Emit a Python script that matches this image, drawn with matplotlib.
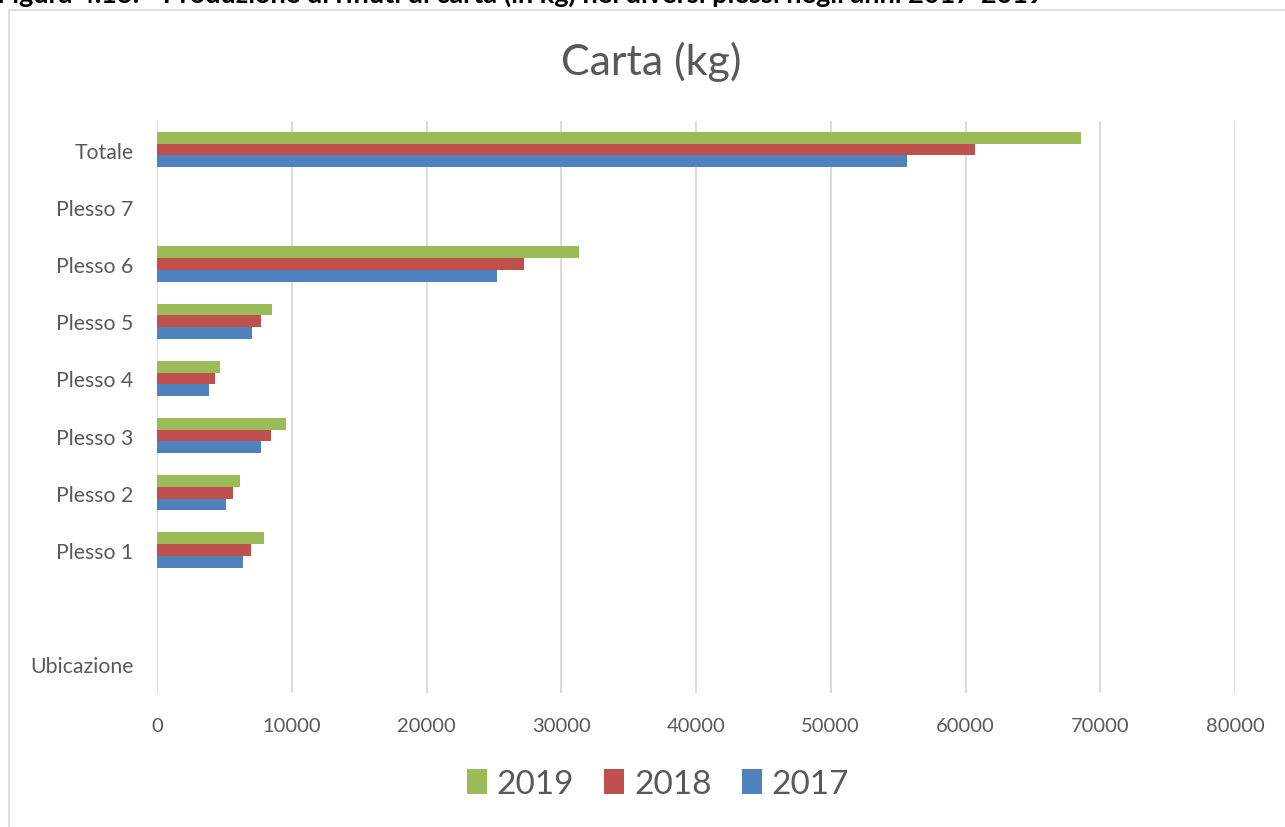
import numpy as np
import matplotlib.pyplot as plt
from matplotlib.patches import Rectangle

plt.rcParams['font.family'] = ['Lato', 'DejaVu Sans']

categories = ['Ubicazione', '', 'Plesso 1', 'Plesso 2', 'Plesso 3', 'Plesso 4',
              'Plesso 5', 'Plesso 6', 'Plesso 7', 'Totale']
v2017 = [0, 0, 6380, 5120, 7700, 3840, 7050, 25230, 0, 55660]
v2018 = [0, 0, 6980, 5660, 8470, 4330, 7700, 27230, 0, 60740]
v2019 = [0, 0, 7920, 6160, 9580, 4700, 8530, 31320, 0, 68570]
years = ['2019', '2018', '2017']
colors = ['#9BBB59', '#C0504D', '#4F81BD']
xticks = [0, 10000, 20000, 30000, 40000, 50000, 60000, 70000, 80000]

gray = '#595959'
W, H = 1285, 828
fig = plt.figure(figsize=(W / 100, H / 100), dpi=100)

# chart frame (clipped on right/bottom like the source)
fig.patches.append(Rectangle((9 / W, -0.01), 1.1, 1 - 11 / H + 0.01,
                             transform=fig.transFigure, fill=False,
                             edgecolor='#D9D9D9', lw=1.2))
# caption of the page, cut at the top edge in the source image
fig.text(-0.002, 1 - 3 / H,
         'Figura 4.13: - Produzione di rifiuti di carta (in kg) nei diversi plessi negli anni 2017-2019',
         fontsize=19.5, fontweight='bold', color='black', va='baseline', ha='left')

ax = fig.add_axes([157 / W, 1 - 694 / H, (1235 - 157) / W, (694 - 122) / H])
y = np.arange(len(categories))
h = 0.205
ax.barh(y + h, v2019, height=h, color=colors[0], lw=0, label=years[0], zorder=3)
ax.barh(y, v2018, height=h, color=colors[1], lw=0, label=years[1], zorder=3)
ax.barh(y - h, v2017, height=h, color=colors[2], lw=0, label=years[2], zorder=3)

ax.set_xlim(0, 80000)
ax.set_ylim(-0.5, len(categories) - 0.5)
ax.set_xticks(xticks)
ax.set_xticklabels([str(t) for t in xticks])
ax.set_yticks(y)
ax.set_yticklabels(categories)
ax.grid(axis='x', color='#D9D9D9', lw=1.3, zorder=0)
for s in ax.spines.values():
    s.set_visible(False)
ax.tick_params(axis='x', length=0, pad=17, labelsize=14.5, labelcolor=gray)
ax.tick_params(axis='y', length=0, pad=17, labelsize=15.3, labelcolor=gray)

fig.text(651 / W, 1 - 62 / H, 'Carta (kg)', fontsize=31, color=gray, ha='center', va='center')

leg = fig.legend(loc='center', bbox_to_anchor=(658 / W, 1 - 785 / H), ncol=3, frameon=False,
                 fontsize=24, handlelength=0.6, handleheight=0.75, handletextpad=0.3,
                 columnspacing=0.9)
for t in leg.get_texts():
    t.set_color(gray)

fig.savefig('out.png', dpi=100)
